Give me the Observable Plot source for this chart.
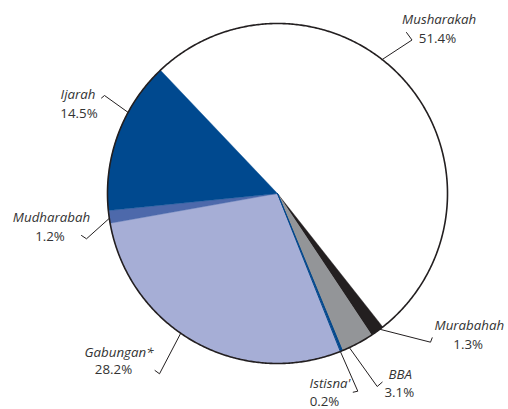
<!DOCTYPE html>
<html><head><meta charset="utf-8">
<script src="https://cdn.jsdelivr.net/npm/d3@7"></script>
<script src="https://cdn.jsdelivr.net/npm/@observablehq/plot@0.6"></script>
<style>html,body{margin:0;padding:0;background:#fff;} #chart svg{display:block;}</style>
</head><body><div id="chart"></div>
<script>
// ---- data ----
const categories = ["Musharakah", "Murabahah", "BBA", "Istisna'", "Gabungan*", "Mudharabah", "Ijarah"];
const shares = [51.4, 1.3, 3.1, 0.2, 28.2, 1.2, 14.5];
const shareLabels = ["51.4%", "1.3%", "3.1%", "0.2%", "28.2%", "1.2%", "14.5%"];
const sliceColors = ["#ffffff", "#231f20", "#939598", "#00468b", "#a6aed6", "#4d69ab", "#00498f"];

// ---- layout (pixels) ----
const W = 508, H = 409, CX = 277, CY = 193, R = 170, START = -43.5;
const labelLayout = {
  "Musharakah": {angle: 38,    elbow: [411.5, 39.5], hook: [406, 32],    name: [438.7, 23],  pct: [437, 42]},
  "Ijarah":     {angle: 298.5, elbow: [104, 95],     hook: [101, 97.5],  name: [77.5, 98],   pct: [78.5, 117]},
  "Mudharabah": {angle: 261.6, elbow: [86, 238.3],   hook: [81, 235],    name: [51, 221.7],  pct: [49.5, 240]},
  "Gabungan*":  {angle: 214.7, elbow: [159, 373.3],  hook: [154.5, 370], name: [118.5, 356], pct: [113, 373]},
  "Istisna'":   {angle: 158.3, elbow: [357.3, 390.7],hook: [352.7, 391.7],name: [329.5, 387.7], pct: [324, 405.5]},
  "BBA":        {angle: 155,   elbow: [376.7, 386],  hook: [381.7, 381.7],name: [399.7, 378.3], pct: [398.8, 396.7]},
  "Murabahah":  {angle: 143,   elbow: [430, 341.7],  hook: [431.7, 337.3],name: [468.8, 329.3], pct: [467.7, 348.3]}
};

const rad = d => d * Math.PI / 180;
const onCircle = a => [CX + R * Math.sin(rad(a)), CY - R * Math.cos(rad(a))];

// slice polygons from the shares
const total = d3.sum(shares);
const slicePts = [];
let acc = START;
categories.forEach((name, i) => {
  const a0 = acc, a1 = acc + shares[i] / total * 360;
  acc = a1;
  slicePts.push({name, x: CX, y: CY});
  const n = Math.max(2, Math.ceil((a1 - a0) / 0.25));
  for (let k = 0; k <= n; k++) {
    const [x, y] = onCircle(a0 + (a1 - a0) * k / n);
    slicePts.push({name, x, y});
  }
  slicePts.push({name, x: CX, y: CY});
});

const circlePts = d3.range(0, 361, 0.5).map(a => { const [x, y] = onCircle(a); return {x, y}; });

const leaderPts = [];
const nameLabels = [], pctLabels = [];
categories.forEach((name, i) => {
  const L = labelLayout[name];
  const [sx, sy] = onCircle(L.angle);
  leaderPts.push({name, x: sx, y: sy}, {name, x: L.elbow[0], y: L.elbow[1]}, {name, x: L.hook[0], y: L.hook[1]});
  nameLabels.push({x: L.name[0], y: L.name[1], text: name});
  pctLabels.push({x: L.pct[0], y: L.pct[1], text: shareLabels[i]});
});

const font = "'Open Sans', 'Noto Sans', sans-serif";
const chart = Plot.plot({
  width: W, height: H, margin: 0,
  style: {background: "#fff", overflow: "visible"},
  x: {domain: [0, W], range: [0, W], axis: null},
  y: {domain: [0, H], range: [0, H], axis: null},
  color: {domain: categories, range: sliceColors},
  marks: [
    Plot.line(slicePts, {x: "x", y: "y", z: "name", fill: "name", stroke: "name", strokeWidth: 0.4, curve: "linear"}),
    Plot.line(slicePts.filter(d => d.name === "Istisna'"), {x: "x", y: "y", stroke: "#00468b", strokeWidth: 1, curve: "linear"}),
    Plot.line(circlePts, {x: "x", y: "y", stroke: "#231f20", strokeWidth: 1.6}),
    Plot.line(leaderPts, {x: "x", y: "y", z: "name", stroke: "#231f20", strokeWidth: 1}),
    Plot.text(nameLabels, {x: "x", y: "y", text: "text", textAnchor: "middle", lineAnchor: "bottom",
      fontSize: 13.3, fontFamily: font, fontStyle: "italic", fill: "#333"}),
    Plot.text(pctLabels, {x: "x", y: "y", text: "text", textAnchor: "middle", lineAnchor: "bottom",
      fontSize: 13.3, fontFamily: font, fill: "#333"})
  ]
});
document.getElementById("chart").appendChild(chart);
</script>
</body></html>
